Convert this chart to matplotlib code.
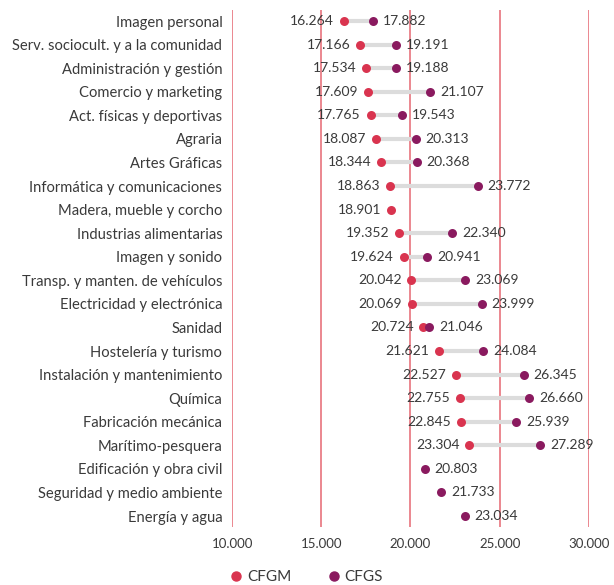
import matplotlib.pyplot as plt
import numpy as np
from matplotlib.lines import Line2D

# Data
categories = ["Imagen personal", "Serv. sociocult. y a la comunidad", "Administración y gestión",
              "Comercio y marketing", "Act. físicas y deportivas", "Agraria", "Artes Gráficas",
              "Informática y comunicaciones", "Madera, mueble y corcho", "Industrias alimentarias",
              "Imagen y sonido", "Transp. y manten. de vehículos", "Electricidad y electrónica",
              "Sanidad", "Hostelería y turismo", "Instalación y mantenimiento", "Química",
              "Fabricación mecánica", "Marítimo-pesquera", "Edificación y obra civil",
              "Seguridad y medio ambiente", "Energía y agua"]
cfgm = [16264, 17166, 17534, 17609, 17765, 18087, 18344, 18863, 18901, 19352, 19624, 20042,
        20069, 20724, 21621, 22527, 22755, 22845, 23304, None, None, None]
cfgs = [17882, 19191, 19188, 21107, 19543, 20313, 20368, 23772, None, 22340, 20941, 23069,
        23999, 21046, 24084, 26345, 26660, 25939, 27289, 20803, 21733, 23034]
xticks = [10000, 15000, 20000, 25000, 30000]

c_gm = "#d9344f"
c_gs = "#8a1a5f"
c_grid = "#e8737d"
c_text = "#3a3a3a"

plt.rcParams['font.family'] = ['Lato', 'DejaVu Sans']

def fmt(v):
    return f"{v:,}".replace(",", ".")

fig = plt.figure(figsize=(6.14, 5.85), dpi=100)
ax = fig.add_axes([0.378, 0.099, 0.581, 0.884])

for x in xticks:
    ax.axvline(x, color=c_grid, lw=1.2, zorder=0)

y = np.arange(len(categories))
for i in range(len(categories)):
    a, b = cfgm[i], cfgs[i]
    if a is not None and b is not None:
        ax.plot([a, b], [i, i], color="#dcdcdc", lw=3, zorder=1, solid_capstyle='butt')
    if a is not None:
        ax.scatter(a, i, s=42, color=c_gm, zorder=3, linewidths=0)
        ax.annotate(fmt(a), (a, i), xytext=(-7, 0), textcoords='offset points',
                    ha='right', va='center', fontsize=10, color=c_text)
    if b is not None:
        ax.scatter(b, i, s=42, color=c_gs, zorder=3, linewidths=0)
        ax.annotate(fmt(b), (b, i), xytext=(7, 0), textcoords='offset points',
                    ha='left', va='center', fontsize=10, color=c_text)

ax.set_xlim(10000, 30000)
ax.set_ylim(len(categories) - 0.53, -0.47)
ax.set_yticks(y)
ax.set_yticklabels(categories, fontsize=10.6, color=c_text)
ax.set_xticks(xticks)
ax.set_xticklabels([fmt(v) for v in xticks], fontsize=9.5, color=c_text)
ax.tick_params(length=0, pad=8)
ax.tick_params(axis='y', pad=7)
for s in ax.spines.values():
    s.set_visible(False)

handles = [Line2D([], [], marker='o', ls='', color=c_gm, markersize=6.5, label='CFGM'),
           Line2D([], [], marker='o', ls='', color=c_gs, markersize=6.5, label='CFGS')]
fig.legend(handles=handles, loc='lower center', bbox_to_anchor=(0.492, -0.022), ncol=2,
           frameon=False, fontsize=11, handletextpad=-0.3, columnspacing=1.8,
           labelcolor=c_text)

fig.savefig("out.png", dpi=100)
